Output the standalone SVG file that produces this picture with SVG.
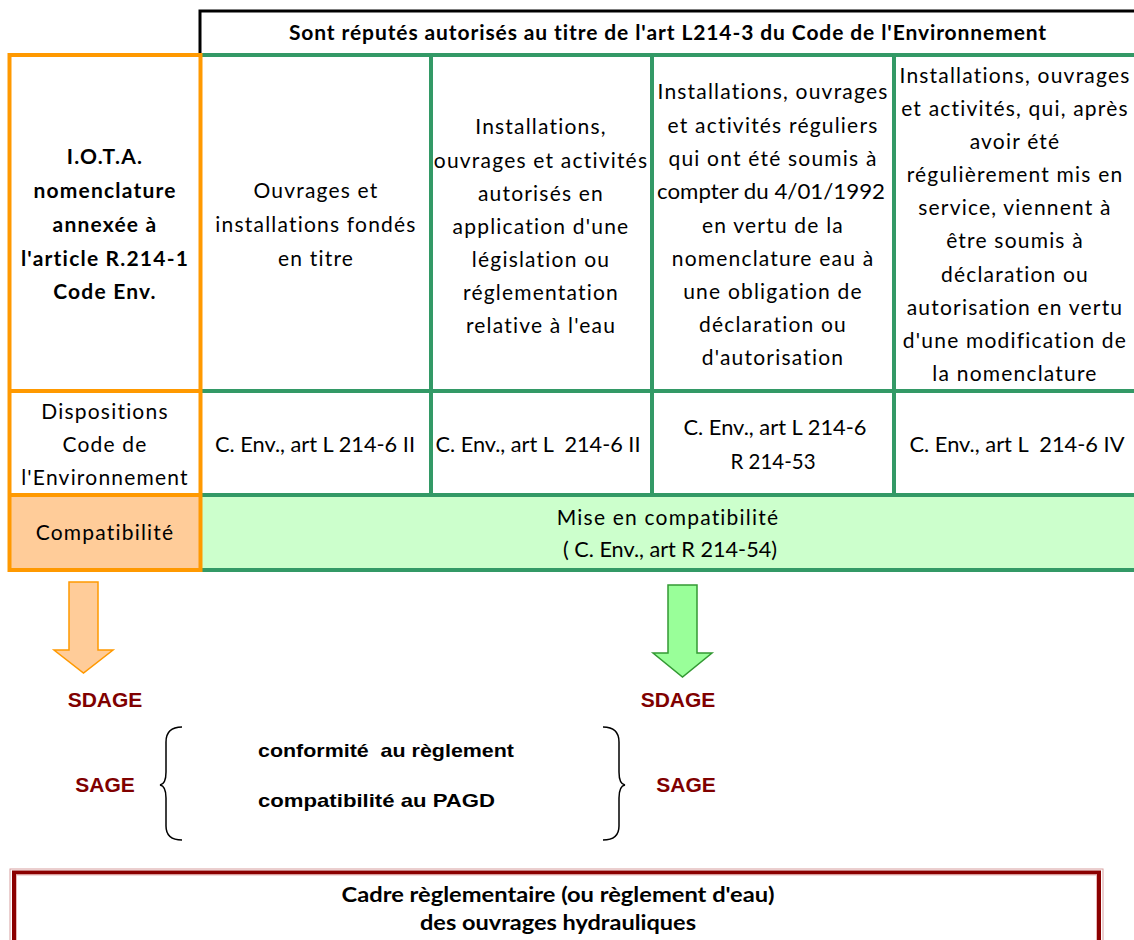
<svg xmlns="http://www.w3.org/2000/svg" width="1134" height="940" viewBox="0 0 1134 940">
<style>
.t{font-family:Lato,"Open Sans",sans-serif;font-size:21px;letter-spacing:1.2px;fill:#000;text-anchor:middle}
.b{font-weight:bold}
.h{letter-spacing:0.9px}
.n{letter-spacing:0}
.r{font-family:"Liberation Sans",Arial,sans-serif;font-weight:bold;font-size:21px;fill:#800000;text-anchor:middle}
.k{font-family:"Liberation Sans",Arial,sans-serif;font-weight:bold;font-size:19px;fill:#000}
.g{stroke:#339966;stroke-width:4;fill:none}
.o{stroke:#FF9900;stroke-width:4;fill:none}
</style>
<rect width="1134" height="940" fill="#fff"/>
<g id="fills">
<rect x="9.5" y="495" width="191" height="75" fill="#FFCC99"/>
<rect x="200.5" y="495" width="934" height="75" fill="#CCFFCC"/>
</g>
<g id="grid">
<path d="M200,57 V11 H1134" stroke="#000" stroke-width="3" fill="none"/>
<path class="g" d="M198,55 H1134 M198,391 H1134 M198,495 H1134 M198,570 H1134 M431,55 V495 M652,55 V495 M894,55 V495"/>
<rect class="o" x="9.5" y="55" width="191" height="515"/>
<path class="o" d="M9.5,391 H200.5 M9.5,495 H200.5"/>
</g>
<g id="header">
<text class="t b h" x="668" y="40">Sont réputés autorisés au titre de l'art L214-3 du Code de l'Environnement</text>
</g>
<g id="col0-title">
<text class="t b" x="105" y="164">I.O.T.A.</text>
<text class="t b" x="105" y="198">nomenclature</text>
<text class="t b" x="105" y="232">annexée à</text>
<text class="t b" x="105" y="266">l'article R.214-1</text>
<text class="t b" x="105" y="299">Code Env.</text>
</g>
<g id="col1-title">
<text class="t" x="316" y="198">Ouvrages et</text>
<text class="t" x="316" y="232">installations fondés</text>
<text class="t" x="316" y="266">en titre</text>
</g>
<g id="col2-title">
<text class="t" x="541" y="134">Installations,</text>
<text class="t" x="541" y="168">ouvrages et activités</text>
<text class="t" x="541" y="201">autorisés en</text>
<text class="t" x="541" y="234">application d'une</text>
<text class="t" x="541" y="267">législation ou</text>
<text class="t" x="541" y="300">réglementation</text>
<text class="t" x="541" y="333">relative à l'eau</text>
</g>
<g id="col3-title">
<text class="t" x="773" y="99">Installations, ouvrages</text>
<text class="t" x="773" y="133">et activités réguliers</text>
<text class="t" x="773" y="166">qui ont été soumis à</text>
<text class="t n" x="771" y="199" textLength="228" lengthAdjust="spacingAndGlyphs">compter du 4/01/1992</text>
<text class="t" x="773" y="233">en vertu de la</text>
<text class="t" x="773" y="266">nomenclature eau à</text>
<text class="t" x="773" y="299">une obligation de</text>
<text class="t" x="773" y="332">déclaration ou</text>
<text class="t" x="773" y="365">d'autorisation</text>
</g>
<g id="col4-title">
<text class="t" x="1015" y="83">Installations, ouvrages</text>
<text class="t" x="1015" y="116">et activités, qui, après</text>
<text class="t" x="1015" y="149">avoir été</text>
<text class="t" x="1015" y="182">régulièrement mis en</text>
<text class="t" x="1015" y="215">service, viennent à</text>
<text class="t" x="1015" y="248">être soumis à</text>
<text class="t" x="1015" y="282">déclaration ou</text>
<text class="t" x="1015" y="315">autorisation en vertu</text>
<text class="t" x="1015" y="348">d'une modification de</text>
<text class="t" x="1015" y="381">la nomenclature</text>
</g>
<g id="row2-label">
<text class="t" x="105" y="419">Dispositions</text>
<text class="t" x="105" y="452">Code de</text>
<text class="t" x="105" y="485">l'Environnement</text>
</g>
<g id="row2-col1"><text class="t n" x="315" y="452" textLength="200" lengthAdjust="spacingAndGlyphs">C. Env., art L 214-6 II</text></g>
<g id="row2-col2"><text class="t n" x="538" y="452" textLength="205" lengthAdjust="spacingAndGlyphs" xml:space="preserve">C. Env., art L  214-6 II</text></g>
<g id="row2-col3">
<text class="t n" x="775" y="435" textLength="183" lengthAdjust="spacingAndGlyphs">C. Env., art L 214-6</text>
<text class="t n" x="773" y="469" textLength="85" lengthAdjust="spacingAndGlyphs">R 214-53</text>
</g>
<g id="row2-col4"><text class="t n" x="1017" y="452" textLength="215" lengthAdjust="spacingAndGlyphs" xml:space="preserve">C. Env., art L  214-6 IV</text></g>
<g id="row3-label"><text class="t" x="105" y="540">Compatibilité</text></g>
<g id="row3-value">
<text class="t" x="668" y="525">Mise en compatibilité</text>
<text class="t n" x="670" y="557" textLength="214" lengthAdjust="spacingAndGlyphs">( C. Env., art R 214-54)</text>
</g>
<g id="connectors">
<polygon points="69,582 98,582 98,650 113,650 83.5,673 54,650 69,650" fill="#FFCC99" stroke="#FF9900" stroke-width="1.5"/>
<polygon points="668,585 697,585 697,653 712,653 682.5,677 653,653 668,653" fill="#99FF99" stroke="#339933" stroke-width="1.5"/>
</g>
<g id="sdage-left"><text class="r" x="105" y="707">SDAGE</text></g>
<g id="sdage-right"><text class="r" x="678" y="707">SDAGE</text></g>
<g id="sage-left"><text class="r" x="105" y="792">SAGE</text></g>
<g id="sage-right"><text class="r" x="686" y="792">SAGE</text></g>
<g id="braces">
<path d="M182,727 Q166,727 166,742 L166,772 Q166,784 160,785 Q166,786 166,798 L166,826 Q166,840 182,840" stroke="#000" stroke-width="1.5" fill="none"/>
<path d="M603,727 Q619,727 619,742 L619,772 Q619,784 625,785 Q619,786 619,798 L619,826 Q619,840 603,840" stroke="#000" stroke-width="1.5" fill="none"/>
</g>
<g id="rules">
<text class="k" x="258" y="757" textLength="256" lengthAdjust="spacingAndGlyphs" xml:space="preserve">conformité  au règlement</text>
<text class="k" x="258" y="807" textLength="237" lengthAdjust="spacingAndGlyphs">compatibilité au PAGD</text>
</g>
<g id="cadre">
<rect x="10" y="869" width="1093" height="100" fill="none" stroke="#d8a0a0" stroke-width="1"/>
<rect x="14" y="872.5" width="1085" height="100" fill="#fff" stroke="#8B0000" stroke-width="4"/>
<rect x="16.5" y="875" width="1080" height="100" fill="none" stroke="#e8b8b8" stroke-width="1"/>
<text class="t b n" x="558" y="902" textLength="433" lengthAdjust="spacingAndGlyphs">Cadre règlementaire (ou règlement d'eau)</text>
<text class="t b n" x="558" y="930" textLength="276" lengthAdjust="spacingAndGlyphs">des ouvrages hydrauliques</text>
</g>
</svg>
